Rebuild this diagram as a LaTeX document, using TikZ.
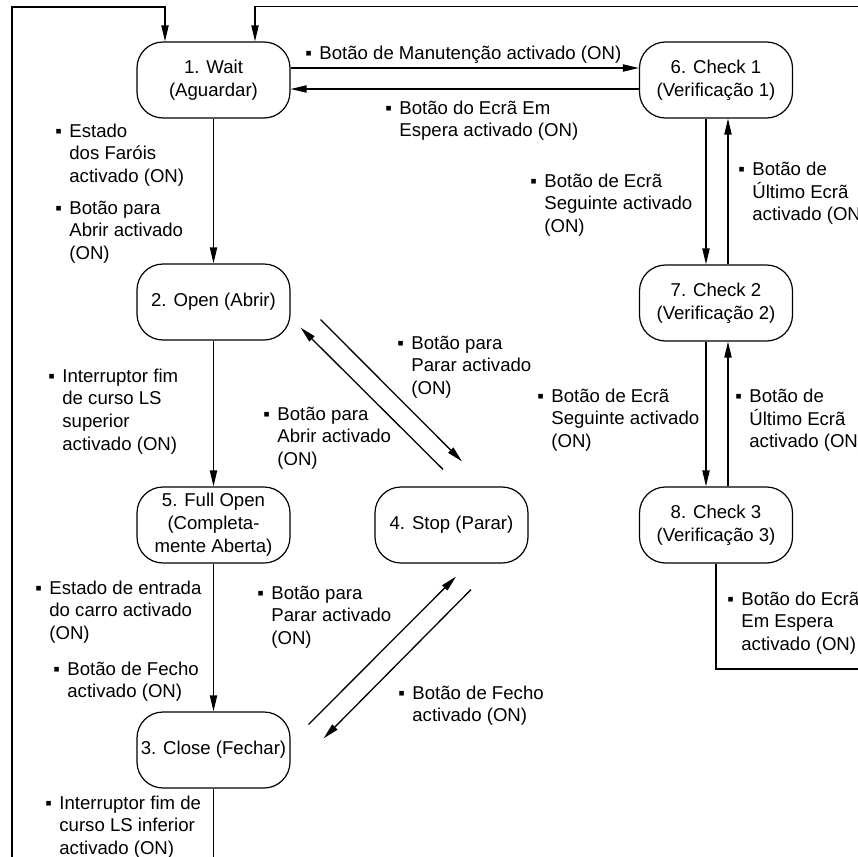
\documentclass[tikz,border=0pt]{standalone}
\usepackage{fontspec}
\setmainfont{Liberation Sans}
\usetikzlibrary{arrows.meta,calc}

\tikzset{
  state/.style={draw, line width=0.6pt, rounded corners=13pt, minimum width=76.5pt,
    minimum height=38pt, inner sep=0pt, align=center, font=\fontsize{9.3}{11.5}\selectfont},
  cond/.style={anchor=north west, inner sep=0pt, font=\fontsize{9.3}{11.3}\selectfont},
  link/.style={line width=0.65pt, -{Triangle[length=8pt,width=3.6pt]}}
}
\newcommand{\bul}{\makebox[7pt][l]{▪}}
\newcommand{\cnd}[1]{\begin{tabular}{@{}l@{}l@{}}#1\end{tabular}}

\begin{document}
\begin{tikzpicture}[x=0.5pt,y=-0.5pt]
\useasboundingbox (0,0) rectangle (858,857);
\clip (0,0) rectangle (858,857);
% states
\node[state] (wait) at (213.5,80) {1. Wait\\(Aguardar)};
\node[state] (open) at (213.5,302) {2. Open (Abrir)};
\node[state] (full) at (213.5,525) {5. Full Open\\(Completa-\\mente Aberta)};
\node[state] (close) at (213.5,750) {3. Close (Fechar)};
\node[state] (stop) at (451.5,525) {4. Stop (Parar)};
\node[state] (chk1) at (716,80) {6. Check 1\\(Verificação 1)};
\node[state] (chk2) at (716,303) {7. Check 2\\(Verificação 2)};
\node[state] (chk3) at (716,525) {8. Check 3\\(Verificação 3)};
% transitions
\draw[link] ($(wait.east)+(0,-12)$) -- ($(chk1.west)+(0,-12)$);
\draw[link] ($(chk1.west)+(0,9)$) -- ($(wait.east)+(0,9)$);
\draw[link] (wait.south) -- (open.north);
\draw[link] (open.south) -- (full.north);
\draw[link] (full.south) -- (close.north);
\draw[link] ($(chk1.south)+(-10,0)$) -- ($(chk2.north)+(-10,0)$);
\draw[link] ($(chk2.north)+(12,0)$) -- ($(chk1.south)+(12,0)$);
\draw[link] ($(chk2.south)+(-10,0)$) -- ($(chk3.north)+(-10,0)$);
\draw[link] ($(chk3.north)+(12,0)$) -- ($(chk2.south)+(12,0)$);
\draw[link] ($(open.south east)+(30,-21)$) -- ($(stop.north)+(10.5,-25)$);
\draw[link] ($(stop.north)+(-8.5,-17)$) -- ($(open.south east)+(10,-13)$);
\draw[link] ($(close.north east)+(18,13)$) -- ($(stop.south)+(4.5,13)$);
\draw[link] ($(stop.south)+(19.5,26)$) -- ($(close.north east)+(33,27)$);
% return loops
\draw[link] (close.south) -- ++(0,150) -| (12,7) -| ($(wait.north)+(-48.5,0)$);
\draw[link] (chk3.south) |- (900,669) |- ($(wait.north)+(41.5,-35)$) -- ($(wait.north)+(41.5,0)$);
% conditions
\node[cond] (manut) at (305,43) {\cnd{\bul & Botão de Manutenção activado (ON)}};
\node[cond] (espera) at (385,98) {\cnd{\bul & Botão do Ecrã Em\\ & Espera activado (ON)}};
\node[cond] (farois) at (55,121) {\cnd{\bul & Estado\\ & dos Faróis\\ & activado (ON)}};
\node[cond] (abrir) at (55,198) {\cnd{\bul & Botão para\\ & Abrir activado\\ & (ON)}};
\node[cond] (seg1) at (530,171) {\cnd{\bul & Botão de Ecrã\\ & Seguinte activado\\ & (ON)}};
\node[cond] (ult1) at (738,159) {\cnd{\bul & Botão de\\ & Último Ecrã\\ & activado (ON)}};
\node[cond] (seg2) at (537,386) {\cnd{\bul & Botão de Ecrã\\ & Seguinte activado\\ & (ON)}};
\node[cond] (ult2) at (735,386) {\cnd{\bul & Botão de\\ & Último Ecrã\\ & activado (ON)}};
\node[cond] (lssup) at (48,366) {\cnd{\bul & Interruptor fim\\ & de curso LS\\ & superior\\ & activado (ON)}};
\node[cond] (parar1) at (397,333) {\cnd{\bul & Botão para\\ & Parar activado\\ & (ON)}};
\node[cond] (abrir2) at (263,404) {\cnd{\bul & Botão para\\ & Abrir activado\\ & (ON)}};
\node[cond] (carro) at (35,578) {\cnd{\bul & Estado de entrada\\ & do carro activado\\ & (ON)}};
\node[cond] (fecho1) at (53,659) {\cnd{\bul & Botão de Fecho\\ & activado (ON)}};
\node[cond] (parar2) at (257,583) {\cnd{\bul & Botão para\\ & Parar activado\\ & (ON)}};
\node[cond] (fecho2) at (398,683) {\cnd{\bul & Botão de Fecho\\ & activado (ON)}};
\node[cond] (lsinf) at (45,793) {\cnd{\bul & Interruptor fim de\\ & curso LS inferior\\ & activado (ON)}};
\node[cond] (espera2) at (727,589) {\cnd{\bul & Botão do Ecrã\\ & Em Espera\\ & activado (ON)}};
\end{tikzpicture}
\end{document}
